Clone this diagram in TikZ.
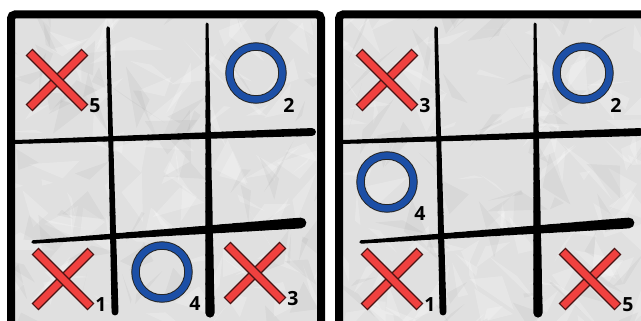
\documentclass[tikz,border=0pt]{standalone}
\usepackage{fontspec}
\setmainfont{Open Sans}
\usetikzlibrary{calc}
\definecolor{xred}{HTML}{F0413F}
\definecolor{xedge}{HTML}{4A1414}
\definecolor{oblue}{HTML}{1C4FA6}
\definecolor{paper}{HTML}{E0E0E0}
\tikzset{
	xbar/.style={draw=xedge,line width=1.1pt,fill=xred,minimum width=78pt,minimum height=8.5pt,inner sep=0pt},
	ring/.style={circle,draw=black!85,double=oblue,double distance=6.5pt,line width=1pt,minimum size=53pt,inner sep=0pt},
	num/.style={font=\fontsize{19.5}{19.5}\selectfont\bfseries,inner sep=0pt},
	frame/.style={line width=8pt,rounded corners=4pt},
}
% trait a main levee : debut, fin, epaisseur debut, epaisseur fin
\newcommand\pen[4]{%
	\foreach \t [evaluate=\t as \u using \t+0.05, evaluate=\t as \w using #3+(#4-#3)*\t] in {0,0.05,...,0.951}
		\draw[line width=\w pt,line cap=round] ($#1!\t!#2$) -- ($#1!\u!#2$);
}
% une grille sur papier froisse
\newcommand\board{%
	\begin{scope}
		\clip (15,18) rectangle (317,330);
		\fill[paper] (15,18) rectangle (317,330);
		\foreach \i in {1,...,110}{
			\pgfmathsetmacro\cx{166+165*rand}
			\pgfmathsetmacro\cy{175+165*rand}
			\fill[white,opacity=0.22] (\cx,\cy) -- ++(35*rand,35*rand) -- ++(35*rand,35*rand) -- cycle;
		}
		\foreach \i in {1,...,60}{
			\pgfmathsetmacro\cx{166+165*rand}
			\pgfmathsetmacro\cy{175+165*rand}
			\fill[black,opacity=0.035] (\cx,\cy) -- ++(35*rand,35*rand) -- ++(35*rand,35*rand) -- cycle;
		}
	\end{scope}
	%grille
	\pen{(108,28)}{(115,312)}{3.5}{7}
	\pen{(207,24)}{(210,313)}{3}{9.5}
	\pen{(15,142)}{(312,132)}{4}{8}
	\pen{(33,242)}{(301,223)}{3.5}{11}
	\draw[frame] (11,330) -- (11,14.5) -- (321,14.5) -- (321,330);
}
\begin{document}
\begin{tikzpicture}[x=1pt,y=-1pt]
	\useasboundingbox (0,0) rectangle (641,321);
	\clip (0,0) rectangle (641,321);
	\pgfmathsetseed{11}
	\board
	\begin{scope}[shift={(328,0)}]
		\board
	\end{scope}
	% croix
	\foreach \n/\d/\x/\y in {L5/5/57/80, L1/1/63/279, L3/3/255/273, R3/3/387/80, R1/1/392/279, R5/5/590/279}{
		\node[xbar,rotate=45] (\n-a) at (\x,\y) {};
		\node[xbar,rotate=-45] (\n-b) at (\x,\y) {};
		\node[num] (\n-lab) at ([shift={(38,26)}]\n-a.center) {\d};
	}
	% ronds
	\foreach \n/\d/\x/\y in {L2/2/256/73, L4/4/162/272, R2/2/583/73, R4/4/387/182}{
		\node[ring] (\n) at (\x,\y) {};
		\node[num] (\n-lab) at ([shift={(33,32)}]\n.center) {\d};
	}
\end{tikzpicture}
\end{document}
